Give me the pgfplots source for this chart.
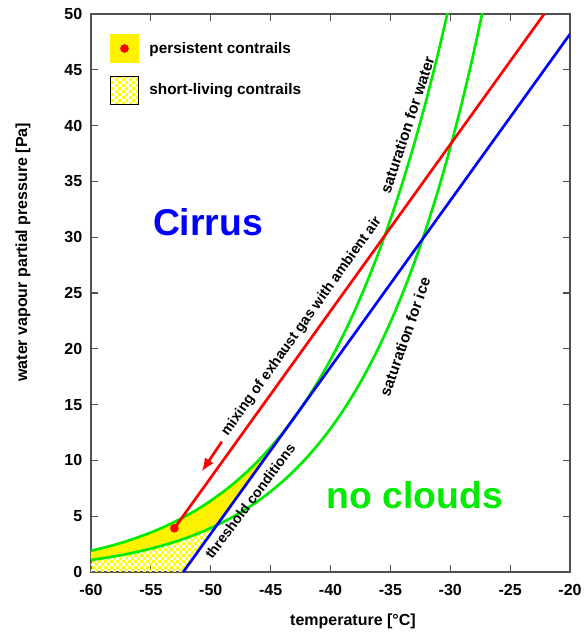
\documentclass[border=0pt]{standalone}
\usepackage{fontspec}
\setmainfont{Liberation Sans}
\usepackage{pgfplots}
\pgfplotsset{compat=1.18}
\usetikzlibrary{patterns,arrows.meta}
\pgfdeclarepatternformonly{mycheck}{\pgfpointorigin}{\pgfqpoint{4.8pt}{4.8pt}}{\pgfqpoint{4.8pt}{4.8pt}}{%
  \pgfpathrectangle{\pgfpointorigin}{\pgfqpoint{2.4pt}{2.4pt}}%
  \pgfpathrectangle{\pgfqpoint{2.4pt}{2.4pt}}{\pgfqpoint{2.4pt}{2.4pt}}%
  \pgfusepath{fill}}
\definecolor{mygreen}{RGB}{0,235,0}
\definecolor{axgray}{RGB}{80,80,80}
\begin{document}
\begin{tikzpicture}
\begin{axis}[
  scale only axis,
  width=359.25pt, height=418.5pt,
  xmin=-60, xmax=-20, ymin=0, ymax=50,
  xtick={-60,-55,...,-20}, ytick={0,5,...,50},
  tick align=inside,
  major tick length=5.25pt,
  axis line style={axgray, line width=0.9pt},
  every tick/.style={axgray, line width=0.9pt},
  /pgf/number format/assume math mode=true,
  ticklabel style={font=\bfseries\fontsize{12}{14}\selectfont},
  xticklabel style={yshift=-5.5pt},
  yticklabel style={xshift=-3pt},
  xlabel={temperature [°C]},
  ylabel={water vapour partial pressure [Pa]},
  label style={font=\bfseries\fontsize{12}{14}\selectfont},
  xlabel style={at={(axis description cs:0.547,-0.088)}, anchor=center},
  ylabel style={at={(axis description cs:-0.142,0.573)}, anchor=center},
  legend style={draw=none, fill=white, at={(axis description cs:0.034,0.969)}, anchor=north west,
    font=\bfseries\fontsize{11.5}{13}\selectfont, row sep=10pt, column sep=6pt, inner sep=2pt},
  legend cell align=left,
]
% short-living (checker) region
\addplot[draw=none, pattern=mycheck, pattern color=yellow, forget plot] coordinates {
 (-60,0) (-52.3,0) (-49.43,4.25) (-50,3.94) (-51,3.479) (-52,3.070) (-53,2.705) (-54,2.381)
 (-55,2.095) (-56,1.839) (-57,1.613) (-58,1.413) (-59,1.236) (-60,1.080)} -- cycle;
% persistent region
\addplot[draw=none, fill=yellow, forget plot] coordinates {
 (-60,1.90) (-59,2.158) (-58,2.447) (-57,2.771) (-56,3.134) (-55,3.54) (-54,3.992) (-53,4.497)
 (-52,5.060) (-51,5.686) (-50,6.39) (-49,7.155) (-48,8.011) (-47,8.960) (-46,10.01) (-45,11.17)
 (-44,12.45) (-43,13.87) (-49.43,4.25) (-50,3.94) (-51,3.479) (-52,3.070) (-53,2.705) (-54,2.381)
 (-55,2.095) (-56,1.839) (-57,1.613) (-58,1.413) (-59,1.236) (-60,1.080)} -- cycle;
% saturation for water
\addplot[mygreen, line width=2pt, smooth, forget plot] coordinates {
 (-60,1.90) (-59,2.158) (-58,2.447) (-57,2.771) (-56,3.134) (-55,3.54) (-54,3.992) (-53,4.497)
 (-52,5.060) (-51,5.686) (-50,6.39) (-49,7.155) (-48,8.011) (-47,8.960) (-46,10.01) (-45,11.17)
 (-44,12.45) (-43,13.87) (-42,15.42) (-41,17.14) (-40,19.02) (-39,21.09) (-38,23.36) (-37,25.86)
 (-36,28.58) (-35,31.57) (-34,34.84) (-33,38.40) (-32,42.30) (-31,46.54) (-30,51.17)};
% saturation for ice
\addplot[mygreen, line width=2pt, smooth, forget plot] coordinates {
 (-60,1.080) (-59,1.236) (-58,1.413) (-57,1.613) (-56,1.839) (-55,2.095) (-54,2.381) (-53,2.705)
 (-52,3.070) (-51,3.479) (-50,3.94) (-49,4.455) (-48,5.032) (-47,5.678) (-46,6.401) (-45,7.21)
 (-44,8.108) (-43,9.112) (-42,10.23) (-41,11.47) (-40,12.85) (-39,14.38) (-38,16.08) (-37,17.97)
 (-36,20.05) (-35,22.37) (-34,24.91) (-33,27.72) (-32,30.83) (-31,34.25) (-30,38.02) (-29,42.17)
 (-28,46.74) (-27,51.75)};
% threshold line
\addplot[blue, line width=2pt, forget plot] coordinates {(-52.3,0) (-20,48.2)};
% mixing line
\addplot[red, line width=2pt, forget plot] coordinates {(-53.04,3.92) (-22.16,50)};
\addplot[red, line width=2pt, -{Latex[length=10pt,width=8pt]}, forget plot] coordinates {(-49.08,11.68) (-50.75,9.0)};
\addplot[red, only marks, mark=*, mark size=3pt, forget plot] coordinates {(-53.04,3.92)};
% legend
\addlegendimage{legend image code/.code={
  \fill[yellow] (0pt,-10.5pt) rectangle (21pt,10.5pt);
  \fill[red] (10.5pt,0pt) circle (3pt);}}
\addlegendentry{persistent contrails}
\addlegendimage{legend image code/.code={
  \fill[pattern=mycheck, pattern color=yellow] (0pt,-10.5pt) rectangle (21pt,10.5pt);}}
\addlegendentry{short-living contrails}
% annotations
\node[blue, font=\bfseries\fontsize{28}{30}\selectfont] at (axis cs:-50.23,31.36) {Cirrus};
\node[mygreen, font=\bfseries\fontsize{28}{30}\selectfont] at (axis cs:-32.94,6.9) {no clouds};
\node[rotate=71.8, font=\bfseries\fontsize{11.5}{13}\selectfont] at (axis cs:-33.59,40.05) {saturation for water};
\node[rotate=70.6, font=\bfseries\fontsize{11.5}{13}\selectfont] at (axis cs:-33.78,21.08) {saturation for ice};
\node[rotate=54.5, font=\bfseries\fontsize{10.8}{13}\selectfont] at (axis cs:-42.4,22.0) {mixing of exhaust gas with ambient air};
\node[rotate=53, font=\bfseries\fontsize{10.6}{13}\selectfont] at (axis cs:-46.72,6.36) {threshold conditions};
\end{axis}
\pgfresetboundingbox
\path[use as bounding box] ([shift={(-68.25pt,-47.25pt)}]current axis.south west) rectangle ([shift={(10.5pt,10.5pt)}]current axis.north east);
\end{tikzpicture}
\end{document}
